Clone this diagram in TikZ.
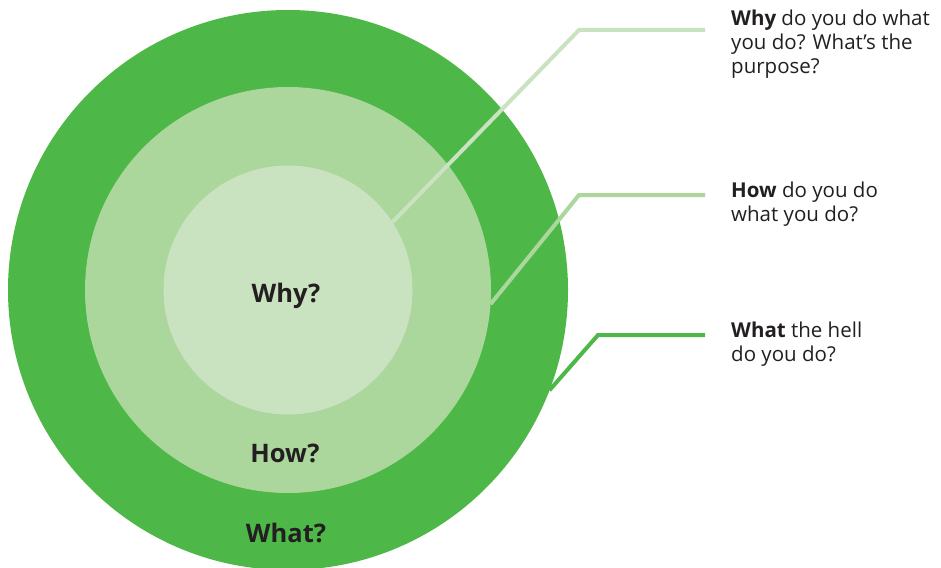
\documentclass[tikz,border=0pt]{standalone}
\usepackage{fontspec}
\setmainfont{Open Sans}
\definecolor{cwhat}{HTML}{4DB848}
\definecolor{chow}{HTML}{ABD69C}
\definecolor{cwhy}{HTML}{C9E3C1}
\definecolor{ink}{HTML}{231F20}
\begin{document}
\begin{tikzpicture}[x=1pt,y=-1pt,
  ring/.style={circle,inner sep=0pt,outer sep=0pt},
  ringlabel/.style={anchor=base,text=ink,font=\fontsize{25.5}{30}\selectfont\bfseries,inner sep=0pt},
  side/.style={anchor=base west,align=left,text=ink,inner sep=0pt,font=\fontsize{20.5}{24}\selectfont},
  lead/.style={line width=4pt}]
\useasboundingbox (0,0) rectangle (941,567);
\clip (0,0) rectangle (941,567);
\node[ring,fill=cwhat,minimum size=560pt] (what) at (288,290) {};
\node[ring,fill=chow,minimum size=406pt] (how) at (288,290) {};
\node[ring,fill=cwhy,minimum size=249pt] (why) at (288,290) {};
\node[ringlabel] (lwhy) at (286,302) {Why?};
\node[ringlabel] (lhow) at (285,462) {How?};
\node[ringlabel] (lwhat) at (286,542) {What?};
\node[side] (twhy) at (731,74) {\textbf{Why} do you do what\\you do? What’s the\\purpose?};
\node[side] (thow) at (731,221) {\textbf{How} do you do\\what you do?};
\node[side] (twhat) at (731,361) {\textbf{What} the hell\\do you do?};
\coordinate (ewhy) at (705,30);
\coordinate (ehow) at (705,195);
\coordinate (ewhat) at (705,335);
\draw[lead,cwhy] (why.33) -- (579,30) -- (ewhy);
\draw[lead,chow] (how.-4) -- (579,195) -- (ehow);
\draw[lead,cwhat] (what.-21.5) -- (598,335) -- (ewhat);
\end{tikzpicture}
\end{document}
